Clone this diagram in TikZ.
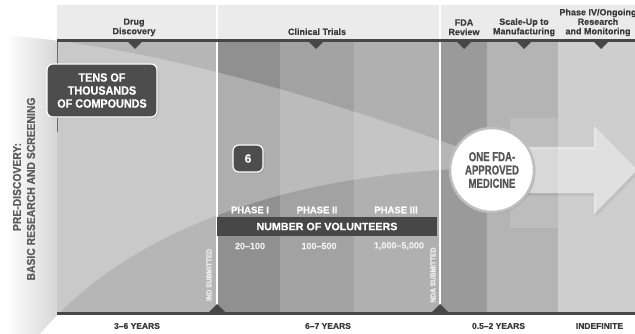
\documentclass[tikz,border=0pt]{standalone}
\usepackage{fontspec}
\setmainfont{Liberation Sans}[BoldFeatures={FakeBold=0.5}]
\newfontfamily\cf{Liberation Sans}[FakeStretch=0.9, BoldFeatures={FakeBold=0.5}]
\newfontfamily\cfx{Liberation Sans}[FakeStretch=0.74, BoldFeatures={FakeBold=0.6}]
\usetikzlibrary{shadows}
\definecolor{hdr}{HTML}{EBEBEB}
\definecolor{cdd}{HTML}{B6B6B6}
\definecolor{cpa}{HTML}{909090}
\definecolor{cpb}{HTML}{A2A2A2}
\definecolor{cpc}{HTML}{B0B0B0}
\definecolor{cfda}{HTML}{9A9A9A}
\definecolor{csc}{HTML}{B4B4B4}
\definecolor{cpd}{HTML}{CECECE}
\definecolor{cdark}{HTML}{474747}
\definecolor{cbox}{HTML}{4D4D4D}
\definecolor{chtext}{HTML}{3A3A3A}
\definecolor{cside}{HTML}{5C5C5C}
\definecolor{ccirc}{HTML}{555555}
\tikzset{
  hdrtext/.style={align=center, text=chtext, inner sep=0pt, font=\bfseries\fontsize{9}{9.5}\selectfont},
  yeartext/.style={text=chtext, inner sep=0pt, font=\bfseries\fontsize{8.5}{9}\selectfont},
  phasetext/.style={text=white, inner sep=0pt, font=\bfseries\fontsize{9.5}{10}\selectfont},
  numtext/.style={text=white!94!black, inner sep=0pt, font=\bfseries\fontsize{9}{10}\selectfont},
  subtext/.style={text=white!94!black, inner sep=0pt, rotate=90, font=\cf\bfseries\fontsize{7.4}{7.4}\selectfont},
  sidetext/.style={text=cside, inner sep=0pt, rotate=90, font=\cf\bfseries\fontsize{11.5}{12}\selectfont},
  darkbox/.style={fill=cbox, draw=white, line width=1.2pt, rounded corners=6pt, text=white, align=center, inner sep=0pt,
    drop shadow={opacity=0.35, shadow xshift=1.5pt, shadow yshift=-1.5pt}},
  downtri/.style={fill=cdark},
}
\begin{document}
\begin{tikzpicture}[x=1pt,y=-1pt]
\useasboundingbox (0,0) rectangle (635,334);
\fill[white] (0,0) rectangle (635,334);
% header band
\fill[hdr] (57,5) rectangle (635,39);
% columns
\fill[cdd] (57,39) rectangle (217,313);
\fill[cpa] (217,39) rectangle (280,313);
\fill[cpb] (280,39) rectangle (354,313);
\fill[cpc] (354,39) rectangle (440,313);
\fill[cfda] (440,39) rectangle (487,313);
\fill[csc] (487,39) rectangle (558,313);
\fill[cpd] (558,39) rectangle (635,313);
% funnel overlay inside the columns
\begin{scope}
  \clip (57,41) rectangle (635,312);
  \fill[white, opacity=0.27] (0,35) .. controls (150,45) and (330,100) .. (480,155) -- (480,168)
     .. controls (250,175) and (110,250) .. (40,334) -- (0,334) -- cycle;
\end{scope}
% funnel start at the left, fading to white
\begin{scope}
  \clip (0,0) rectangle (57,334);
  \clip (0,35) .. controls (150,45) and (330,100) .. (480,155) -- (480,168)
     .. controls (250,175) and (110,250) .. (40,334) -- (0,334) -- cycle;
  \shade[left color=white, right color=black!16] (6,30) rectangle (57,334);
\end{scope}
\draw[cdark!80, line width=1pt] (57,40) -- (57,132);
% faint square behind the circle
\fill[white, opacity=0.13] (510,118) rectangle (558,228);
% big arrow
\fill[black, opacity=0.06] (494,150) -- (596,150) -- (596,129) -- (639,173) -- (596,217) -- (596,196) -- (494,196) -- cycle;
\fill[white, opacity=0.5] (492,147) -- (594,147) -- (594,126) -- (637,170) -- (594,214) -- (594,193) -- (492,193) -- cycle;
% separators
\draw[white, line width=2pt] (217,5) -- (217,312);
\draw[white, line width=2pt] (440,5) -- (440,312);
% top rule with markers
\fill[cdark] (57,39) rectangle (635,42);
\foreach \mx in {135,316,464,524,601}
  \fill[downtri] (\mx-8,41) -- (\mx+8,41) -- (\mx,49) -- cycle;
% bottom rule with markers
\fill[cdark] (57,312) rectangle (635,315);
\foreach \mx in {217,440}
  \fill[downtri] (\mx-9,313) -- (\mx+9,313) -- (\mx,304) -- cycle;
% header labels
\node[hdrtext] (hdd) at (134,27.3) {Drug\\Discovery};
\node[hdrtext] (hct) at (317,31.7) {Clinical Trials};
\node[hdrtext] (hfda) at (464,27.3) {FDA\\Review};
\node[hdrtext] (hsc) at (524,27.3) {Scale-Up to\\Manufacturing};
\node[hdrtext] (hp4) at (598,22.5) {Phase IV/Ongoing\\Research\\and Monitoring};
% side label
\node[sidetext] (pre) at (17,187) {PRE-DISCOVERY:};
\node[sidetext] (basic) at (31,189) {BASIC RESEARCH AND SCREENING};
% boxes
\node[darkbox, minimum width=110pt, minimum height=53pt, font=\cf\bfseries\fontsize{12}{13}\selectfont] (tens) at (102,90.5) {TENS OF\\THOUSANDS\\OF COMPOUNDS};
\node[darkbox, minimum width=30pt, minimum height=27pt, font=\bfseries\fontsize{12}{13}\selectfont] (six) at (248,158.5) {6};
% phases
\node[phasetext] (ph1) at (250,210) {PHASE I};
\node[phasetext] (ph2) at (317,210) {PHASE II};
\node[phasetext] (ph3) at (396,210) {PHASE III};
\node[fill=cdark, minimum width=220pt, minimum height=19pt, inner sep=0pt, text=white,
      font=\bfseries\fontsize{10.7}{12}\selectfont] (vol) at (327,226.5) {NUMBER OF VOLUNTEERS};
\node[numtext] (n1) at (250,246) {20–100};
\node[numtext] (n2) at (319,246) {100–500};
\node[numtext] (n3) at (399,246) {1,000–5,000};
\node[subtext] (ind) at (209,275) {IND SUBMITTED};
\node[subtext] (nda) at (433,275) {NDA SUBMITTED};
% circle
\node[circle, fill=white, draw=black!25, line width=2.5pt, minimum size=84pt, inner sep=0pt,
      drop shadow={opacity=0.35, shadow xshift=1.5pt, shadow yshift=-1.5pt},
      text=ccirc, align=center, font=\cfx\bfseries\fontsize{13}{13.3}\selectfont] (med) at (492,170) {ONE FDA-\\APPROVED\\MEDICINE};
% year labels
\node[yeartext] (y1) at (137,326) {3–6 YEARS};
\node[yeartext] (y2) at (328,326) {6–7 YEARS};
\node[yeartext] (y3) at (498.5,326) {0.5–2 YEARS};
\node[yeartext] (y4) at (599.5,326) {INDEFINITE};
\end{tikzpicture}
\end{document}
